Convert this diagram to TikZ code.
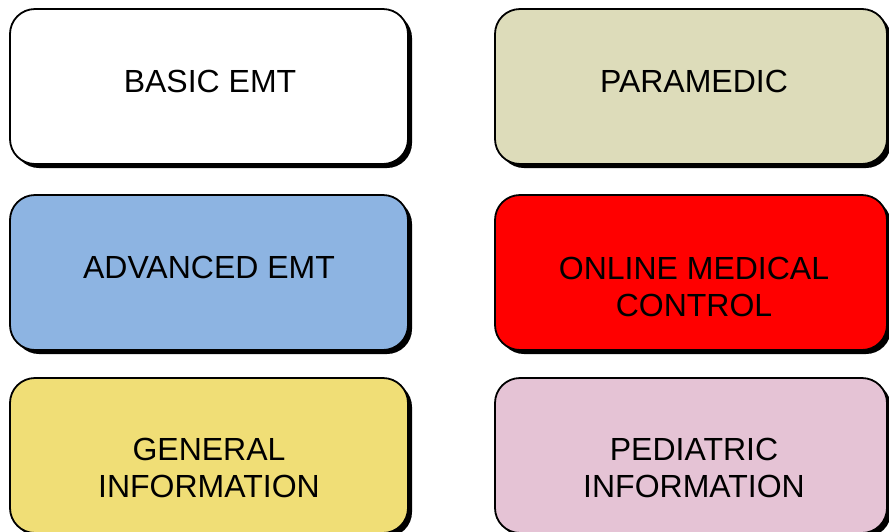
\documentclass[tikz,border=0pt]{standalone}
\usepackage{fontspec}
\setmainfont{Liberation Sans}
\usetikzlibrary{shadows}
\definecolor{tanc}{RGB}{221,220,186}
\definecolor{bluec}{RGB}{141,180,226}
\definecolor{redc}{RGB}{255,0,0}
\definecolor{yellowc}{RGB}{240,222,118}
\definecolor{pinkc}{RGB}{229,195,213}
\begin{document}
\begin{tikzpicture}[x=1pt,y=1pt,
  card/.style={draw=black, line width=1.8pt, rounded corners=25pt,
    minimum width=398pt, minimum height=155pt, inner sep=0pt,
    drop shadow={shadow xshift=4pt, shadow yshift=-4pt, fill=black, opacity=1}},
  rcard/.style={card, minimum width=392pt},
  lbl/.style={font=\fontsize{32}{37}\selectfont, align=center, anchor=base, inner sep=0pt}]
\useasboundingbox (0,0) rectangle (889,-531);
\node[card, fill=white]    (basic)   at (209,-86.5) {};
\node[rcard, fill=tanc]    (para)    at (691,-86.5) {};
\node[card, fill=bluec]    (adv)     at (209,-272.5) {};
\node[rcard, fill=redc]    (online)  at (691,-272.5) {};
\node[card, fill=yellowc]  (general) at (209,-455.5) {};
\node[rcard, fill=pinkc]   (pedi)    at (691,-455.5) {};
\node[lbl] (basicT)   at (210,-92)  {BASIC EMT};
\node[lbl] (paraT)    at (694,-92)  {PARAMEDIC};
\node[lbl] (advT)     at (209,-278) {ADVANCED EMT};
\node[lbl] (onlineT)  at (694,-316) {ONLINE MEDICAL\\CONTROL};
\node[lbl] (generalT) at (209,-497) {GENERAL\\INFORMATION};
\node[lbl] (pediT)    at (694,-497) {PEDIATRIC\\INFORMATION};
\end{tikzpicture}
\end{document}
